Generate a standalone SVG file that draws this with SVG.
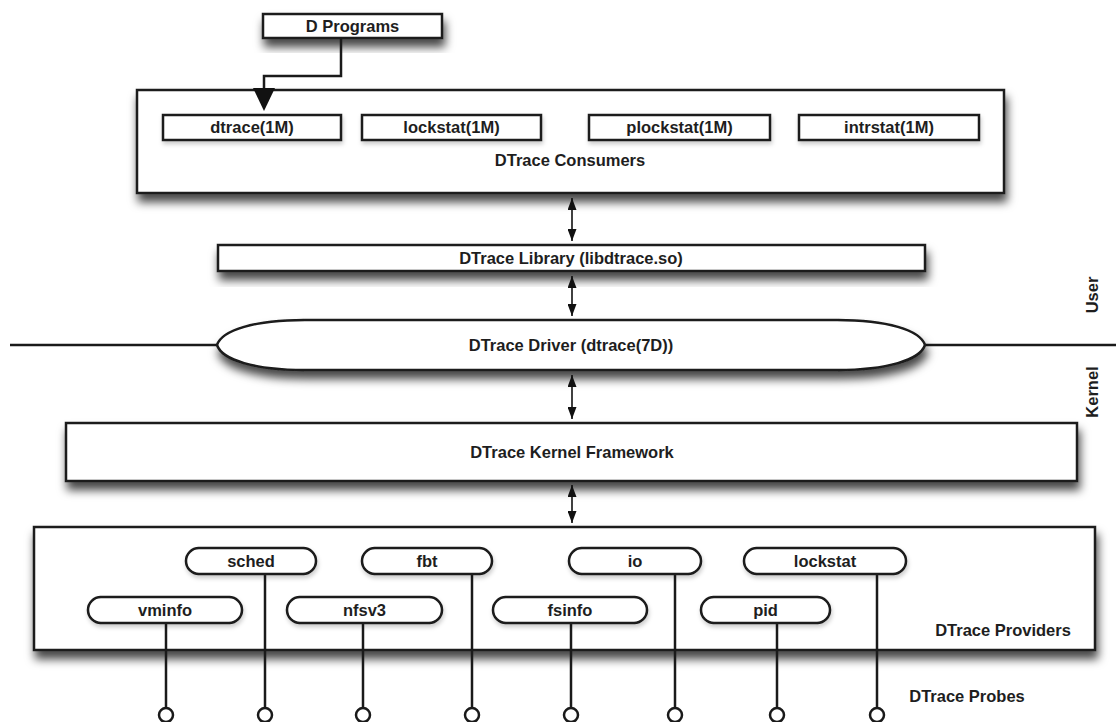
<svg xmlns="http://www.w3.org/2000/svg" width="1116" height="722" viewBox="0 0 1116 722">
<defs>
<filter id="sh" x="-10%" y="-30%" width="125%" height="190%">
<feDropShadow dx="2" dy="8" stdDeviation="5" flood-color="#000" flood-opacity="0.72"/>
</filter>
<filter id="sh2" x="-10%" y="-30%" width="125%" height="180%">
<feDropShadow dx="1" dy="3" stdDeviation="2" flood-color="#000" flood-opacity="0.2"/>
</filter>
<marker id="ah" viewBox="0 0 12 9" markerWidth="12" markerHeight="9" refX="12" refY="4.5" orient="auto-start-reverse" markerUnits="userSpaceOnUse">
<path d="M0,0 L12,4.5 L0,9 z" fill="#111"/>
</marker>
</defs>
<style>
.box{fill:#fff;stroke:#1a1a1a;stroke-width:2.5}
.t{font-family:"Liberation Sans",Arial,sans-serif;font-weight:bold;font-size:16.5px;fill:#1e1e1e;text-anchor:middle}
.c{stroke:#111;stroke-width:1.6;fill:none}
.p{stroke:#1a1a1a;stroke-width:2.5;fill:none}
.probe{fill:#fff;stroke:#1a1a1a;stroke-width:2.5}
</style>
<rect width="1116" height="722" fill="#fff"/>

<g id="boundary">
<line x1="10" y1="345" x2="220" y2="345" class="p" stroke-width="2"/>
<line x1="922" y1="345" x2="1116" y2="345" class="p" stroke-width="2"/>
</g>

<g id="d-programs">
<rect class="box" x="263" y="14" width="179" height="24" filter="url(#sh)"/>
<text class="t" x="352.5" y="32">D Programs</text>
</g>

<g id="consumers">
<rect class="box" x="137" y="90" width="867" height="103" filter="url(#sh)"/>
<text class="t" x="570" y="166">DTrace Consumers</text>
</g>
<g id="dtrace1m">
<rect class="box" x="163" y="115" width="178" height="25" filter="url(#sh2)"/>
<text class="t" x="252" y="133">dtrace(1M)</text>
</g>
<g id="lockstat1m">
<rect class="box" x="362" y="115" width="179" height="25" filter="url(#sh2)"/>
<text class="t" x="451.5" y="133">lockstat(1M)</text>
</g>
<g id="plockstat1m">
<rect class="box" x="589" y="115" width="181" height="25" filter="url(#sh2)"/>
<text class="t" x="679.5" y="133">plockstat(1M)</text>
</g>
<g id="intrstat1m">
<rect class="box" x="799" y="115" width="180" height="25" filter="url(#sh2)"/>
<text class="t" x="889" y="133">intrstat(1M)</text>
</g>

<g id="library">
<rect class="box" x="218" y="245" width="707" height="26" filter="url(#sh)"/>
<text class="t" x="571" y="264">DTrace Library (libdtrace.so)</text>
</g>

<g id="driver">
<path class="box" d="M217,345 C222,330 255,320 305,320 L837,320 C887,320 920,330 925,345 C920,360 887,370 837,370 L305,370 C255,370 222,360 217,345 Z" filter="url(#sh)"/>
<text class="t" x="571" y="351">DTrace Driver (dtrace(7D))</text>
</g>

<g id="labels">
<text class="t" transform="translate(1098,295) rotate(-90)">User</text>
<text class="t" transform="translate(1098,392) rotate(-90)">Kernel</text>
</g>

<g id="kernel">
<rect class="box" x="66" y="423" width="1011" height="58" filter="url(#sh)"/>
<text class="t" x="572" y="458">DTrace Kernel Framework</text>
</g>

<g id="providers">
<rect class="box" x="34" y="527" width="1061" height="123" filter="url(#sh)"/>
<text class="t" x="1003" y="636">DTrace Providers</text>
</g>

<g id="connectors">
<path class="p" d="M341,38 V76 H264 V90" stroke-width="3"/>
<polygon points="253,88 275,88 264,111" fill="#111"/>
<line class="c" x1="572" y1="198" x2="572" y2="241" marker-start="url(#ah)" marker-end="url(#ah)"/>
<line class="c" x1="572" y1="276" x2="572" y2="316" marker-start="url(#ah)" marker-end="url(#ah)"/>
<line class="c" x1="572" y1="375" x2="572" y2="419" marker-start="url(#ah)" marker-end="url(#ah)"/>
<line class="c" x1="572" y1="485" x2="572" y2="523" marker-start="url(#ah)" marker-end="url(#ah)"/>
<line class="p" x1="166" y1="623" x2="166" y2="708"/>
<line class="p" x1="265" y1="574" x2="265" y2="708"/>
<line class="p" x1="363" y1="623" x2="363" y2="708"/>
<line class="p" x1="472" y1="574" x2="472" y2="708"/>
<line class="p" x1="571" y1="623" x2="571" y2="708"/>
<line class="p" x1="675" y1="574" x2="675" y2="708"/>
<line class="p" x1="777" y1="623" x2="777" y2="708"/>
<line class="p" x1="877" y1="574" x2="877" y2="708"/>
</g>

<g id="sched">
<rect class="box" x="186" y="548" width="130" height="26" rx="13" filter="url(#sh2)"/>
<text class="t" x="251" y="567">sched</text>
</g>
<g id="fbt">
<rect class="box" x="362" y="548" width="130" height="26" rx="13" filter="url(#sh2)"/>
<text class="t" x="427" y="567">fbt</text>
</g>
<g id="io">
<rect class="box" x="569" y="548" width="132" height="26" rx="13" filter="url(#sh2)"/>
<text class="t" x="635" y="567">io</text>
</g>
<g id="lockstat">
<rect class="box" x="744" y="548" width="162" height="26" rx="13" filter="url(#sh2)"/>
<text class="t" x="825" y="567">lockstat</text>
</g>
<g id="vminfo">
<rect class="box" x="88" y="597" width="154" height="26" rx="13" filter="url(#sh2)"/>
<text class="t" x="165" y="616">vminfo</text>
</g>
<g id="nfsv3">
<rect class="box" x="287" y="597" width="155" height="26" rx="13" filter="url(#sh2)"/>
<text class="t" x="364.5" y="616">nfsv3</text>
</g>
<g id="fsinfo">
<rect class="box" x="493" y="597" width="154" height="26" rx="13" filter="url(#sh2)"/>
<text class="t" x="570" y="616">fsinfo</text>
</g>
<g id="pid">
<rect class="box" x="701" y="597" width="129" height="26" rx="13" filter="url(#sh2)"/>
<text class="t" x="765.5" y="616">pid</text>
</g>

<g id="probes">
<circle class="probe" cx="166" cy="715" r="7"/>
<circle class="probe" cx="265" cy="715" r="7"/>
<circle class="probe" cx="363" cy="715" r="7"/>
<circle class="probe" cx="472" cy="715" r="7"/>
<circle class="probe" cx="571" cy="715" r="7"/>
<circle class="probe" cx="675" cy="715" r="7"/>
<circle class="probe" cx="777" cy="715" r="7"/>
<circle class="probe" cx="877" cy="715" r="7"/>
<text class="t" x="967" y="702">DTrace Probes</text>
</g>
</svg>
